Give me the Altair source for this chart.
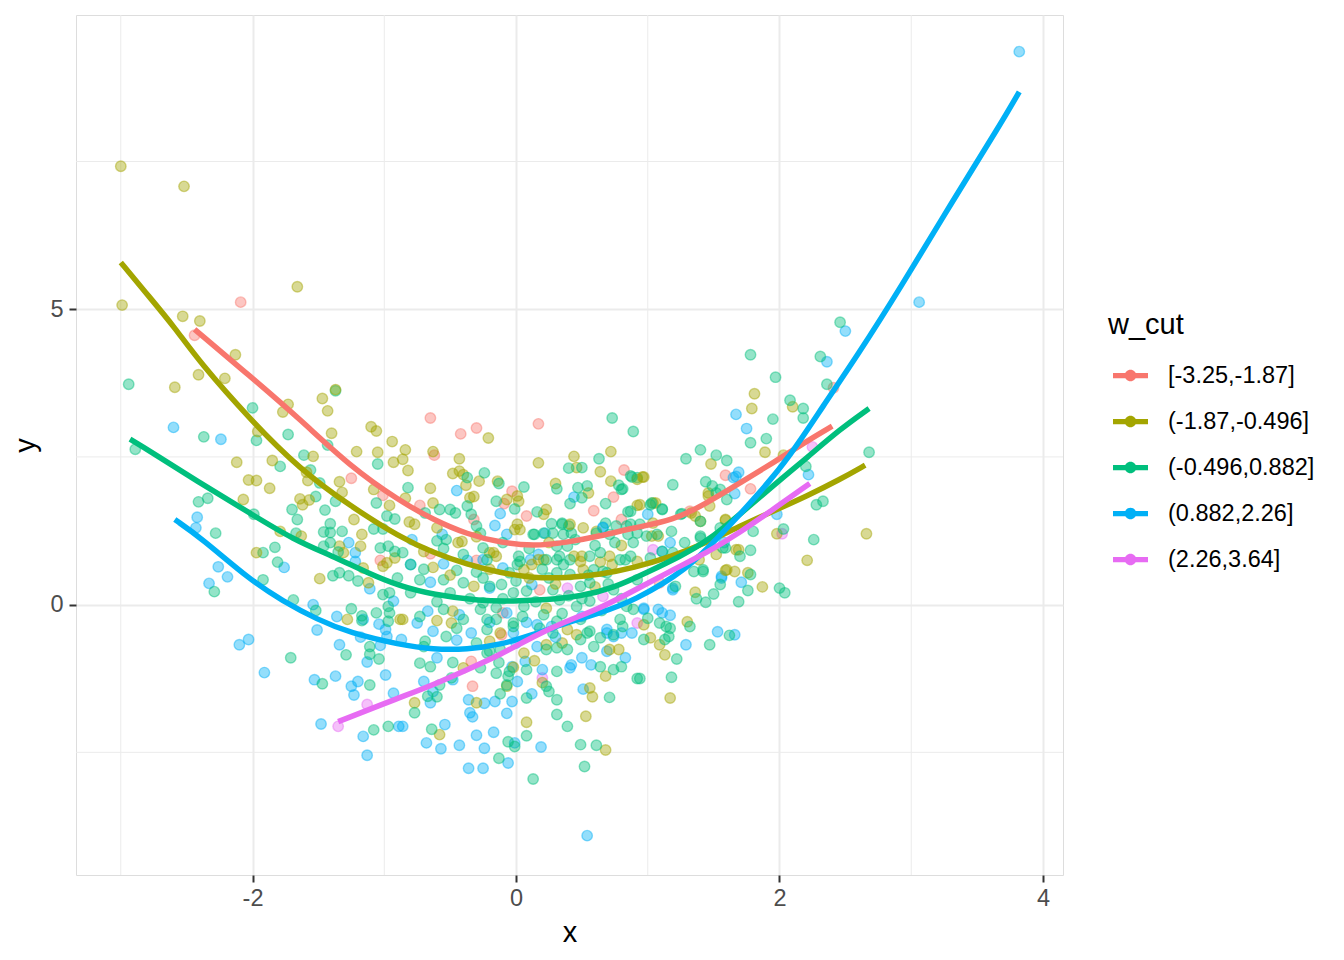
import altair as alt
import pandas as pd

labels = ["[-3.25,-1.87]", "(-1.87,-0.496]", "(-0.496,0.882]", "(0.882,2.26]", "(2.26,3.64]"]
colors = ["#F8766D", "#A3A500", "#00BF7D", "#00B0F6", "#E76BF3"]

red_pts = [(-2.09,5.12),(-2.44,4.56),(-1.25,2.14),(-1.01,1.85),(-1.03,0.75),(-0.65,3.16),(-0.42,2.89),
    (-0.30,2.99),(0.17,3.06),(-0.62,2.53),(0.82,2.28),(0.74,1.82),(0.59,1.59),(0.80,1.44),(-0.73,1.68),
    (-0.09,1.71),(-0.03,1.92),(0.08,1.50),(-0.32,1.44),(-0.65,0.86),(-0.30,0.75),(0.18,0.25),(-0.33,-1.38),
    (-0.34,-0.96),(-0.10,-0.14),(-0.11,-0.51),(2.41,3.67),(1.59,2.19),(1.78,1.96),(1.32,1.58),(1.09,0.37)]

olive_pts = [(-3.00,7.42),(-2.52,7.08),(-2.99,5.07),(-1.66,5.38),(-2.53,4.88),(-2.40,4.80),(-2.13,4.23),
    (-2.41,3.89),(-2.21,3.83),(-2.59,3.68),(-1.37,3.64),(-1.47,3.49),(-1.73,3.39),(-1.77,3.26),(-1.43,3.28),
    (-1.96,2.93),(-1.40,2.90),(-1.10,3.01),(-1.06,2.94),(-0.94,2.76),(-1.21,2.59),(-1.05,2.58),(-1.54,2.51),
    (-0.93,2.41),(-2.12,2.41),(-1.85,2.44),(-1.59,2.24),(-2.03,2.11),(-1.97,2.10),(-1.87,1.97),(-1.58,2.10),
    (-1.34,2.08),(-1.32,1.90),(-1.08,1.95),(-0.96,1.68),(-2.07,1.78),(-1.64,1.79),(-1.62,1.69),(-1.57,1.77),
    (-1.23,1.44),(-1.79,1.24),(-1.63,1.16),(-1.17,1.19),(-1.97,0.88),(-1.34,0.99),(-1.31,0.88),(-1.18,0.99),
    (-0.92,0.79),(-0.98,0.71),(-1.01,0.65),(-1.49,0.44),(-1.28,-0.25),(-1.16,0.62),(-1.12,0.37),(-0.88,-0.25),
    (-0.21,2.82),(-0.84,2.62),(-0.86,2.46),(-0.82,2.27),(-0.63,2.59),(-0.43,2.47),(0.17,2.40),(0.72,2.59),
    (0.44,2.51),(0.46,2.32),(0.64,2.25),(-0.48,2.22),(-0.43,2.26),(-0.40,2.20),(-0.38,2.02),(-0.28,2.09),
    (-0.14,2.09),(-0.65,1.97),(0.30,2.05),(0.72,2.09),(0.55,1.89),(0.92,2.12),(-0.35,1.81),(-0.32,1.83),
    (-0.84,1.80),(-0.63,1.72),(0.01,1.84),(0.02,1.75),(-0.07,1.78),(0.23,1.61),(0.21,1.53),(0.92,1.68),
    (0.01,1.36),(-0.01,1.27),(0.51,1.30),(0.61,1.24),(-0.44,1.05),(-0.41,1.07),(-0.81,1.40),(-0.77,1.36),
    (-0.20,0.88),(-0.15,0.82),(-0.63,0.63),(0.44,0.82),(0.50,0.82),(0.64,0.72),(0.73,0.68),(-0.32,0.31),
    (0.12,0.68),(0.21,0.76),(-0.77,-1.66),(-0.58,-2.20),(-0.30,-1.66),(-0.07,-1.38),(-0.02,-1.06),(0.06,-0.82),
    (0.14,-0.95),(0.20,-1.32),(0.08,-1.99),(0.56,-1.41),(0.58,-1.56),(0.53,-1.89),(0.68,-1.21),(0.68,-2.46),
    (0.71,-0.76),(0.78,-0.76),(0.23,-0.68),(0.35,-0.65),(0.46,-0.51),(-0.12,-0.48),(-0.20,-0.62),(-0.60,-0.27),
    (-0.48,-0.11),(-0.49,-0.31),(-0.40,-1.07),(-0.86,-0.25),(1.81,3.57),(1.79,3.32),(2.10,3.35),(1.89,2.58),
    (2.03,2.53),(1.48,2.38),(0.97,2.16),(1.46,1.89),(1.47,1.67),(1.98,1.20),(2.66,1.20),(2.21,0.75),(1.59,1.43),
    (1.04,1.72),(1.36,1.50),(1.40,1.41),(1.52,0.85),(1.69,0.93),(1.59,0.58),(1.76,0.54),(1.87,0.30),(1.36,0.21),
    (1.30,-0.29),(1.02,-0.56),(1.09,-0.68),(1.13,-0.85),(0.97,-0.34),(1.17,-1.58),(0.03,1.27),(0.41,1.36),
    (-0.17,0.88),(0.17,0.76),(0.49,0.73),(0.71,0.82),(0.06,0.59),(0.51,0.59),(0.23,-0.06),(0.39,-0.42),
    (0.96,2.16),(1.46,1.84),(0.94,1.69),(1.06,1.72),(1.33,1.55),(1.04,1.38),(1.03,1.16),(1.08,1.16),(1.59,1.44),
    (1.67,0.93),(0.92,0.73),(1.60,0.59),(1.39,0.76),(1.66,0.56),(-0.50,0.50),(-0.20,0.60),(0.10,0.45),
    (0.30,0.35),(0.60,0.30),(-0.70,0.90),(-0.30,1.15),(0.25,1.05),(0.80,1.00),(-0.60,1.30)]

green_pts = [(-2.94,3.73),(-2.89,2.63),(-2.00,3.33),(-2.37,2.84),(-1.97,2.78),(-1.73,2.88),(-1.37,3.62),
    (-1.43,2.70),(-1.61,2.53),(-1.05,2.38),(-1.79,2.34),(-1.56,2.28),(-1.49,2.06),(-1.06,1.72),(-2.41,1.74),
    (-2.34,1.80),(-1.52,1.83),(-1.37,1.75),(-1.70,1.61),(-1.45,1.60),(-1.66,1.44),(-1.41,1.37),(-0.98,1.50),
    (-0.92,1.45),(-1.01,1.28),(-1.99,1.53),(-2.28,1.21),(-1.67,1.21),(-1.46,1.23),(-1.41,1.22),(-1.32,1.24),
    (-1.08,1.28),(-1.92,0.88),(-1.83,0.97),(-1.81,0.72),(-2.29,0.22),(-1.92,0.42),(-1.69,0.08),(-1.52,-0.10),
    (-1.25,-0.07),(-1.17,-0.19),(-1.06,-0.14),(-1.71,-0.90),(-1.29,-0.85),(-1.11,-0.71),(-1.11,-0.84),
    (-1.04,-0.92),(-1.47,-1.34),(-1.11,-1.36),(-1.08,-2.12),(-0.97,-2.06),(-1.46,0.99),(-1.41,1.05),
    (-1.35,0.89),(-1.03,0.96),(-0.97,0.99),(-0.92,0.90),(-1.39,0.49),(-1.34,0.54),(-1.27,0.49),(-1.20,0.40),
    (-1.01,0.17),(-0.96,0.20),(-0.97,-0.03),(-0.96,-0.14),(-0.97,-0.28),(-1.17,-0.27),
    (0.73,3.16),(0.89,2.93),(0.63,2.47),(0.40,2.31),(0.50,2.32),(0.87,2.18),(0.92,2.15),(-0.24,2.23),
    (-0.37,2.15),(-0.82,1.98),(-0.13,2.05),(0.06,1.99),(0.31,1.96),(0.47,1.98),(0.54,2.01),(0.50,1.81),
    (0.78,2.02),(0.81,1.96),(-0.15,1.75),(0.41,1.71),(0.68,1.71),(-0.58,1.61),(-0.50,1.61),(-0.46,1.55),
    (-0.37,1.67),(-0.34,1.53),(-0.69,1.55),(-0.01,1.62),(0.16,1.57),(0.85,1.57),(0.27,1.37),(0.35,1.38),
    (0.40,1.33),(0.68,1.38),(0.76,1.33),(-0.30,1.33),(-0.27,1.21),(0.13,1.19),(0.42,1.21),(0.36,1.19),
    (0.85,1.19),(0.89,1.05),(-0.60,1.08),(-0.53,1.10),(-0.25,0.96),(0.31,0.99),(0.39,0.99),(-0.86,0.88),
    (-0.80,0.68),(-0.45,0.58),(0.02,0.82),(0.01,0.68),(0.31,0.76),(0.36,0.68),(0.79,0.76),(0.59,0.59),
    (0.69,0.54),(-0.73,0.42),(-0.55,0.42),(-0.40,0.37),(-0.11,0.34),(-0.02,0.20),(0.08,0.23),(0.28,0.25),
    (0.49,0.31),(-0.70,-0.71),(-0.65,-1.05),(-0.73,-0.99),(-0.48,-0.98),(-0.49,-1.24),(-0.58,-1.36),
    (-0.67,-1.55),(-0.60,-1.56),(-0.77,-1.83),(-0.15,-1.16),(-0.12,-1.51),(-0.06,-1.21),(0.08,-1.10),
    (0.08,-1.58),(0.23,-1.38),(0.31,-1.61),(0.25,-1.47),(0.31,-1.13),(0.31,-1.86),(0.39,-2.06),(0.08,-2.22),
    (0.71,-1.57),(0.92,-1.25),(0.64,-1.05),(0.74,-1.10),(0.80,-1.05),(-0.64,-2.11),(-0.06,-2.32),(-0.01,-2.40),
    (0.49,-2.37),(0.61,-2.38),(-0.13,-2.60),(0.52,-2.74),(0.13,-2.95),(-0.13,-0.98),(-0.27,-1.07),(-0.20,-0.79),
    (-0.05,-1.13),(-0.07,-1.36),(-0.73,-0.20),(-0.55,-0.08),(-0.40,-0.25),(-0.27,-0.08),(-0.22,-0.25),
    (-0.15,-0.25),(-0.02,-0.31),(0.21,-0.17),(0.31,-0.28),(0.49,-0.25),(0.56,-0.45),(0.64,-0.56),(0.79,-0.25),
    (0.89,-0.08),(-0.69,-0.62),(-0.53,-0.54),(-0.30,-0.65),(-0.22,-0.82),(-0.12,-0.76),(0.23,-0.76),(0.31,-0.73),
    (0.39,-0.76),(0.49,-0.59),(0.59,-0.71),(1.78,4.23),(2.31,4.20),(1.97,3.85),(2.36,3.73),(2.08,3.46),
    (2.18,3.32),(2.18,3.16),(1.95,3.14),(1.78,2.74),(1.90,2.81),(2.68,2.58),(1.40,2.62),(1.29,2.47),(1.52,2.53),
    (1.60,2.44),(2.20,2.34),(1.19,2.03),(1.44,2.08),(1.49,2.01),(1.52,1.89),(1.60,1.78),(2.28,1.69),(2.33,1.75),
    (1.80,1.24),(2.03,1.28),(2.26,1.10),(1.02,1.69),(1.11,1.61),(1.26,1.54),(1.18,1.24),(1.40,1.16),(1.28,1.05),
    (1.59,0.96),(1.70,0.82),(1.78,0.92),(2.46,4.78),(1.55,0.34),(1.78,0.51),(2.00,0.28),(2.04,0.20),(1.76,0.24),
    (1.69,0.05),(1.37,0.10),(1.44,0.04),(1.50,0.18),(1.35,0.56),(1.42,0.56),(1.21,0.31),(1.00,-0.23),(1.32,-0.37),
    (1.17,-0.40),(1.16,-0.54),(1.13,-0.59),(1.09,-0.31),(0.97,-0.59),(1.47,-0.68),(1.62,-0.52),(1.22,-0.92),
    (1.18,-1.23),(0.94,-1.25),(0.14,1.19),(0.21,1.21),(0.28,1.21),(0.35,1.36),(0.61,1.21),(0.71,1.19),(0.84,1.33),
    (0.92,1.21),(0.99,1.16),(1.07,1.19),(-0.22,0.76),(0.03,0.73),(0.23,0.76),(0.33,0.82),(0.41,0.76),(0.56,0.82),
    (0.64,0.88),(0.87,0.82),(-0.05,0.54),(0.31,0.54),(0.41,0.51),(0.66,0.56),(-0.20,0.31),(0.56,0.37),(0.74,0.25),
    (0.92,0.42),(-0.25,0.03),(0.06,-0.03),(0.33,0.08),(0.46,-0.03),(0.56,0.06),(0.84,-0.03),(-0.22,-0.42),
    (-0.02,-0.37),(0.18,-0.40),(0.28,-0.48),(0.54,-0.48),(0.74,-0.51),(0.81,-0.37),(1.14,-0.37),(0.88,2.16),
    (1.55,1.95),(0.80,1.95),(1.03,1.72),(1.11,1.62),(0.87,1.58),(1.40,1.41),(1.25,1.53),(0.87,1.36),(0.94,1.36),
    (1.40,1.13),(1.55,1.30),(1.57,0.96),(0.83,0.76),(1.02,0.79),(1.11,0.90),(1.19,0.88),(1.42,0.59),
    (-0.50,0.20),(-0.35,0.10),(-0.25,0.45),(-0.10,0.10),(0.00,0.40),(0.15,0.05),(0.25,0.45),(0.40,0.15),
    (0.55,0.50),(0.70,0.35),(-0.60,0.05),(-0.45,-0.40),(-0.30,0.55),(-0.15,-0.05),(0.05,-0.20),(0.20,0.60),
    (0.35,-0.15),(0.50,0.10),(0.65,-0.10),(0.80,0.10),(-0.70,0.60),(-0.55,0.95),(-0.40,0.85),(-0.10,1.05),
    (0.10,0.95),(0.45,1.10),(0.60,1.00),(0.75,1.05),(-0.80,0.20),(-0.90,0.45)]

blue_pts = [(-2.60,3.00),(-2.24,2.80),(-2.42,1.48),(-2.43,1.30),(-1.76,0.63),(-2.26,0.64),(-2.19,0.47),
    (-2.33,0.36),(-1.54,0.00),(-1.36,-0.20),(-1.16,-0.25),(-1.51,-0.43),(-2.10,-0.68),(-2.03,-0.59),
    (-1.91,-1.15),(-1.34,-0.68),(-1.18,-0.55),(-1.13,-0.97),(-1.03,-0.69),(-1.04,-0.33),(-0.98,-0.54),
    (-0.99,-1.19),(-1.53,-1.27),(-1.37,-1.21),(-1.25,-1.38),(-1.20,-1.30),(-1.23,-1.53),(-0.93,-1.50),
    (-1.48,-2.02),(-1.16,-2.23),(-0.89,-2.06),(-1.13,-2.55),(-1.27,1.05),(-1.22,0.88),(-1.22,0.73),
    (-1.11,0.27),(-0.93,0.06),(-0.99,-0.42),(-0.45,1.93),(0.44,1.82),(-0.12,1.54),(-0.16,1.34),(-0.07,1.19),
    (-0.56,1.19),(-0.79,1.10),(0.66,1.31),(0.22,1.21),(-0.37,0.75),(-0.25,0.76),(-0.55,0.69),(-0.80,0.68),
    (0.11,0.76),(0.17,0.85),(-0.10,0.62),(-0.65,0.38),(0.12,0.34),(-0.20,0.28),(-0.67,-0.11),(-0.75,-0.31),
    (-0.63,-0.45),(-0.87,-0.59),(-0.43,-0.17),(-0.34,-0.48),(-0.07,-0.14),(-0.02,-0.48),(0.08,-0.30),
    (0.16,-0.34),(0.27,-0.37),(0.16,-0.71),(0.07,-0.96),(-0.03,-1.05),(0.01,-1.30),(0.42,-1.02),(0.50,-0.90),
    (0.57,-1.02),(0.41,-1.07),(0.69,-0.79),(0.83,-0.90),(0.69,-0.48),(0.74,-0.54),(0.80,-0.48),(0.88,-0.48),
    (-0.48,-1.27),(-0.70,-1.30),(-0.63,-1.47),(-0.65,-1.66),(-0.36,-1.61),(-0.35,-1.83),(-0.33,-1.90),
    (-0.24,-1.67),(-0.16,-1.64),(-0.03,-1.64),(-0.07,-1.84),(0.12,-1.51),(0.51,-1.43),(-0.86,-2.06),
    (-0.54,-2.03),(-0.30,-2.21),(-0.17,-2.16),(-0.68,-2.34),(-0.57,-2.44),(-0.43,-2.38),(-0.24,-2.43),
    (-0.01,-2.34),(0.19,-2.41),(-0.06,-2.68),(-0.36,-2.77),(-0.25,-2.77),(0.54,-3.91),(2.50,4.63),(2.36,4.11),
    (1.67,3.22),(1.75,2.98),(1.69,2.24),(1.65,2.15),(1.66,1.88),(2.22,2.20),(1.98,1.53),(1.58,1.05),(1.17,1.05),
    (1.56,0.45),(1.71,0.38),(1.19,0.25),(1.08,-0.08),(1.17,-0.18),(1.11,-0.14),(0.97,-0.08),(1.29,-0.68),
    (1.53,-0.46),(1.66,-0.51),(0.66,1.30),(1.11,0.90),(1.19,0.28),(0.97,-0.06),(0.69,-0.42),(1.67,2.17),
    (1.00,1.53),(1.56,0.48),(3.06,5.12),(3.82,9.36),(-0.45,-0.60),(-0.20,-0.30),(0.00,-0.65),(0.30,-0.55),
    (0.50,-0.20),(-0.60,-0.90),(0.20,-1.10)]

pink_pts = [(-1.13,-1.69),(-1.35,-2.06),(0.39,0.28),(0.66,0.14),(0.20,-1.24),(0.92,-0.31),(2.25,2.67),
    (2.02,1.20),(1.04,0.93)]

# loess curves
red_curve = [(-2.44,4.66),(-2.02,3.87),(-1.64,3.14),(-1.26,2.34),(-0.88,1.75),(-0.63,1.44),(-0.37,1.19),
    (-0.12,1.05),(0.13,0.99),(0.38,1.05),(0.64,1.16),(0.89,1.30),(1.19,1.42),(1.45,1.72),(1.70,2.06),
    (1.95,2.40),(2.21,2.77),(2.40,3.02)]
olive_curve = [(-3.00,5.79),(-2.78,5.20),(-2.59,4.69),(-2.40,4.10),(-2.02,3.14),(-1.64,2.29),(-1.26,1.67),
    (-0.88,1.14),(-0.63,0.88),(-0.37,0.68),(-0.12,0.54),(0.13,0.45),(0.38,0.45),(0.64,0.51),(0.89,0.62),
    (1.19,0.82),(1.45,1.05),(1.70,1.33),(1.95,1.58),(2.21,1.84),(2.46,2.12),(2.65,2.36)]
green_curve = [(-2.93,2.80),(-2.78,2.60),(-2.40,2.06),(-2.02,1.55),(-1.69,1.10),(-1.39,0.82),(-1.13,0.54),
    (-0.88,0.31),(-0.63,0.17),(-0.27,0.06),(-0.02,0.06),(0.23,0.08),(0.49,0.14),(0.74,0.28),(0.99,0.54),
    (1.25,0.82),(1.45,1.07),(1.70,1.53),(1.95,2.01),(2.21,2.49),(2.46,2.97),(2.68,3.32)]
blue_curve = [(-2.59,1.44),(-2.39,1.13),(-2.02,0.42),(-1.77,0.06),(-1.51,-0.25),(-1.26,-0.48),(-0.88,-0.68),
    (-0.63,-0.76),(-0.37,-0.76),(-0.12,-0.68),(0.13,-0.51),(0.38,-0.31),(0.64,-0.14),(0.89,0.06),(1.30,0.59),
    (1.57,1.22),(1.83,1.84),(2.08,2.51),(2.33,3.36),(2.59,4.21),(2.92,5.37),(3.30,6.78),(3.68,8.14),(3.82,8.68)]
pink_curve = [(-1.35,-1.98),(-0.88,-1.57),(-0.63,-1.36),(-0.37,-1.10),(-0.12,-0.85),(0.13,-0.54),(0.38,-0.28),
    (0.64,-0.06),(0.94,0.29),(1.19,0.59),(1.45,0.88),(1.70,1.22),(1.95,1.61),(2.23,2.05)]

x_major = [-2, 0, 2, 4]
y_major = [0, 5]
x_minor = [-3, -1, 1, 3]
y_minor = [-2.5, 2.5, 7.5]

groups_pts = [red_pts, olive_pts, green_pts, blue_pts, pink_pts]
groups_curve = [red_curve, olive_curve, green_curve, blue_curve, pink_curve]

rows = []
maxlen = max(len(g) for g in groups_pts)
for i in range(maxlen):
    for lab, g in zip(labels, groups_pts):
        if i < len(g):
            rows.append({"x": g[i][0], "y": g[i][1], "w_cut": lab})
pts_df = pd.DataFrame(rows)

crows = []
for lab, g in zip(labels, groups_curve):
    for (cx, cy) in g:
        crows.append({"x": cx, "y": cy, "w_cut": lab})
curve_df = pd.DataFrame(crows)

xscale = alt.Scale(domain=[-3.34, 4.152], nice=False, zero=False)
yscale = alt.Scale(domain=[-4.576, 9.98], nice=False, zero=False)
cscale = alt.Scale(domain=labels, range=colors)

FONT = "Liberation Sans"
GRID = "#EBEBEB"

xaxis = alt.Axis(values=x_major, title="x", grid=True, gridColor=GRID, gridWidth=2,
                 domain=False, ticks=True, tickColor="#333333", tickSize=7, tickWidth=2,
                 labelFontSize=23.5, labelColor="#4D4D4D", labelPadding=4, labelFont=FONT,
                 labelExpr="'' + datum.value", titleFontSize=29, titleFontWeight="normal",
                 titleColor="#000000", titleFont=FONT, titlePadding=9)
yaxis = alt.Axis(values=y_major, title="y", grid=True, gridColor=GRID, gridWidth=2,
                 domain=False, ticks=True, tickColor="#333333", tickSize=7, tickWidth=2,
                 labelFontSize=23.5, labelColor="#4D4D4D", labelPadding=6, labelFont=FONT,
                 labelExpr="'' + datum.value", titleFontSize=29, titleFontWeight="normal",
                 titleColor="#000000", titleFont=FONT, titlePadding=9)

minor_x = alt.Chart(pd.DataFrame({"v": x_minor})).mark_rule(color=GRID, strokeWidth=1).encode(
    x=alt.X("v:Q", scale=xscale, axis=xaxis))
minor_y = alt.Chart(pd.DataFrame({"v": y_minor})).mark_rule(color=GRID, strokeWidth=1).encode(
    y=alt.Y("v:Q", scale=yscale, axis=yaxis))

legend_symbol = ("M-1,-0.15L1,-0.15L1,0.15L-1,0.15Z "
                 "M0.33,0A0.33,0.33,0,1,1,-0.33,0A0.33,0.33,0,1,1,0.33,0Z")

legend = alt.Legend(title="w_cut", orient="none", legendX=1032, legendY=296,
                    titleFontSize=29, titleFontWeight="normal", titleColor="#000000", titleFont=FONT,
                    titlePadding=18, labelFontSize=23.5, labelColor="#000000", labelFont=FONT,
                    labelOffset=20, symbolType=legend_symbol, symbolSize=1225, symbolStrokeWidth=0,
                    symbolOpacity=1, symbolOffset=5, rowPadding=17)

points = alt.Chart(pts_df).mark_point(filled=True, size=110, fillOpacity=0.42, strokeOpacity=0.45,
                                      strokeWidth=1.4).encode(
    x=alt.X("x:Q", scale=xscale, axis=xaxis),
    y=alt.Y("y:Q", scale=yscale, axis=yaxis),
    color=alt.Color("w_cut:N", scale=cscale, sort=labels, legend=legend),
    stroke=alt.Stroke("w_cut:N", scale=cscale, sort=labels, legend=None),
)

lines = alt.Chart(curve_df).mark_line(strokeWidth=5.5, interpolate="basis").encode(
    x=alt.X("x:Q", scale=xscale, axis=xaxis),
    y=alt.Y("y:Q", scale=yscale, axis=yaxis),
    color=alt.Color("w_cut:N", scale=cscale, sort=labels, legend=legend),
    detail="w_cut:N",
)

chart = alt.layer(minor_x, minor_y, points, lines).properties(
    width=987, height=860,
    autosize=alt.AutoSizeParams(type="none"),
    padding={"left": 68, "top": 7, "right": 260, "bottom": 76},
).configure_view(stroke="#333333", strokeWidth=1.7).configure(font=FONT)

chart.save("out.html", embed_options={"renderer": "svg", "actions": False})
